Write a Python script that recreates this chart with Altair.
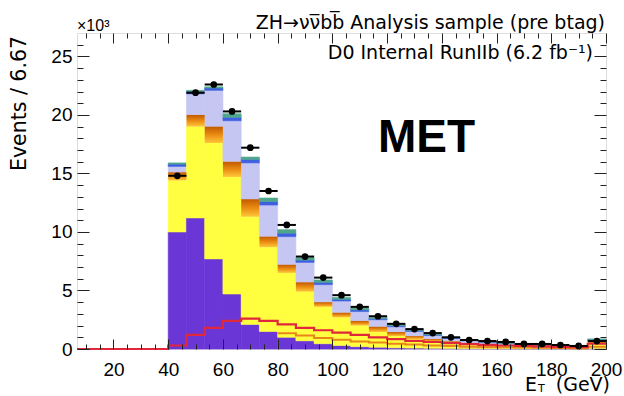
import altair as alt
import pandas as pd

FONT = "Liberation Sans"
FONT2 = "DejaVu Sans"

# bin edges (GeV), bin width 6.67 GeV
edges = [6.67, 13.33, 20.0, 26.67, 33.33, 40.0, 46.67, 53.33, 60.0, 66.67, 73.33,
         80.0, 86.67, 93.33, 100.0, 106.67, 113.33, 120.0, 126.67, 133.33, 140.0,
         146.67, 153.33, 160.0, 166.67, 173.33, 180.0, 186.67, 193.33, 200.0]

# stacked backgrounds (x10^3 events), bins from 40 GeV to 200 GeV
purple = [10.0, 11.2, 7.7, 4.7, 2.1, 1.5, 1.0, 0.7, 0.45, 0.3, 0.2, 0.15, 0.1, 0.08,
          0.06, 0.05, 0.04, 0.03, 0.03, 0.02, 0.02, 0.02, 0.01, 0.05]
yellow = [4.4, 7.8, 9.9, 10.0, 9.2, 7.2, 5.5, 4.2, 3.15, 2.4, 1.8, 1.3, 1.0, 0.77,
          0.59, 0.45, 0.36, 0.29, 0.23, 0.19, 0.15, 0.12, 0.11, 0.40]
orange = [0.7, 1.0, 1.4, 1.3, 1.5, 0.9, 0.7, 0.8, 0.4, 0.4, 0.4, 0.45, 0.35, 0.25,
          0.2, 0.16, 0.12, 0.10, 0.08, 0.07, 0.06, 0.05, 0.04, 0.15]
lavender = [0.5, 1.8, 3.1, 3.5, 3.1, 2.7, 2.4, 1.7, 1.5, 1.0, 0.8, 0.6, 0.45, 0.4,
            0.3, 0.24, 0.18, 0.14, 0.12, 0.10, 0.08, 0.07, 0.06, 0.18]
blue = [0.2, 0.2, 0.2, 0.3, 0.3, 0.3, 0.3, 0.2, 0.2, 0.15, 0.15, 0.1, 0.1, 0.08,
        0.07, 0.05, 0.04, 0.04, 0.03, 0.02, 0.02, 0.02, 0.01, 0.04]
green = [0.1, 0.1, 0.1, 0.3, 0.2, 0.3, 0.3, 0.2, 0.2, 0.15, 0.15, 0.1, 0.1, 0.07,
         0.06, 0.05, 0.04, 0.03, 0.03, 0.02, 0.02, 0.02, 0.02, 0.04]

# data points (x10^3 events)
data = [14.8, 21.9, 22.6, 20.3, 17.2, 13.5, 10.6, 7.9, 6.1, 4.6, 3.6, 2.8, 2.15,
        1.7, 1.36, 1.0, 0.77, 0.68, 0.6, 0.43, 0.43, 0.34, 0.26, 0.68]

# signal line (all bins from 6.67 GeV)
signal = [0, 0, 0, 0, 0, 0.3, 1.2, 1.8, 2.4, 2.6, 2.4, 2.1, 1.8, 1.6, 1.4, 1.2, 1.0,
          0.85, 0.7, 0.6, 0.5, 0.42, 0.35, 0.3, 0.26, 0.22, 0.19, 0.16, 0.45]

# lower orange outline inside the yellow (bins from 80 GeV)
low_line = [1.35, 1.15, 0.95, 0.8, 0.65, 0.55, 0.45, 0.38, 0.3, 0.25, 0.2, 0.17,
            0.14, 0.12, 0.1, 0.08, 0.07, 0.2]

x_major = [20, 40, 60, 80, 100, 120, 140, 160, 180, 200]
y_major = [0, 5, 10, 15, 20, 25]
x_minor = [v for v in range(10, 200, 5) if v % 20 != 0]
y_minor = [v for v in range(1, 27) if v % 5 != 0]

comp_names = ["purple", "yellow", "orange", "lavender", "blue", "green"]
comp_colors = ["#6a36d6", "#ffff40", "#e07f10", "#c6c6f3", "#3d5fe0", "#4fa68c"]
comps = [purple, yellow, orange, lavender, blue, green]

rows = []
for i in range(len(data)):
    cum = 0.0
    for name, arr in zip(comp_names, comps):
        rows.append({"lo": edges[5 + i], "hi": edges[6 + i], "comp": name,
                     "y0": cum, "y1": cum + arr[i]})
        cum += arr[i]
stack_df = pd.DataFrame(rows)
solid_df = stack_df[stack_df.comp != "orange"]
orange_df = stack_df[stack_df.comp == "orange"]

pts_df = pd.DataFrame({"lo": edges[5:-1], "hi": edges[6:],
                       "xc": [(a + b) / 2 for a, b in zip(edges[5:-1], edges[6:])],
                       "data": data})
sig_df = pd.DataFrame({"x": edges, "y": signal + [signal[-1]]})
low_df = pd.DataFrame({"x": edges[11:], "y": low_line + [low_line[-1]]})

xs = alt.Scale(domain=[6.67, 200], nice=False, zero=False)
ys = alt.Scale(domain=[0, 27], nice=False, zero=False)

ax_x = alt.Axis(orient="bottom", values=x_major, ticks=False, tickSize=0, domain=False,
                grid=False, title=None, labelFontSize=19, labelFont=FONT,
                labelColor="black", labelPadding=11, labelFlush=False, labelOverlap=False)
ax_y = alt.Axis(orient="left", values=y_major, ticks=False, tickSize=0, domain=False,
                grid=False, title=None, labelFontSize=19, labelFont=FONT,
                labelColor="black", labelPadding=5, labelOverlap=False)


def tick_axis(orient, offset, values, size):
    return alt.Axis(orient=orient, offset=offset, values=values, labels=False,
                    ticks=True, tickSize=size, tickColor="#222", tickWidth=1,
                    domain=False, grid=False, title=None, zindex=1)


bars = alt.Chart(solid_df).mark_bar(strokeWidth=0.6).encode(
    x=alt.X("lo:Q", scale=xs, axis=ax_x),
    x2="hi:Q",
    y=alt.Y("y0:Q", scale=ys, axis=ax_y),
    y2="y1:Q",
    color=alt.Color("comp:N", scale=alt.Scale(domain=comp_names, range=comp_colors),
                    legend=None),
    stroke=alt.Stroke("comp:N", scale=alt.Scale(domain=comp_names, range=comp_colors),
                      legend=None),
)

orange_grad = alt.LinearGradient(
    gradient="linear", x1=0, x2=0, y1=0, y2=1,
    stops=[alt.GradientStop(color="#c25a00", offset=0),
           alt.GradientStop(color="#ea8c12", offset=0.5),
           alt.GradientStop(color="#ffc63a", offset=1)])
orange_bars = alt.Chart(orange_df).mark_bar(color=orange_grad).encode(
    x=alt.X("lo:Q", scale=xs, axis=None), x2="hi:Q",
    y=alt.Y("y0:Q", scale=ys, axis=None), y2="y1:Q")

low = alt.Chart(low_df).mark_line(interpolate="step-after", color="#e8861a",
                                  strokeWidth=2).encode(
    x=alt.X("x:Q", scale=xs, axis=None), y=alt.Y("y:Q", scale=ys, axis=None))
sig = alt.Chart(sig_df).mark_line(interpolate="step-after", color="#e0283a",
                                  strokeWidth=2.2).encode(
    x=alt.X("x:Q", scale=xs, axis=None), y=alt.Y("y:Q", scale=ys, axis=None))

err = alt.Chart(pts_df).mark_rule(color="black", strokeWidth=2).encode(
    x=alt.X("lo:Q", scale=xs, axis=None), x2="hi:Q",
    y=alt.Y("data:Q", scale=ys, axis=None))
pts = alt.Chart(pts_df).mark_circle(color="black", size=45, opacity=1).encode(
    x=alt.X("xc:Q", scale=xs, axis=None), y=alt.Y("data:Q", scale=ys, axis=None))

W, H = 529, 316


def tick_layer(xax, yax):
    return alt.Chart(pts_df).mark_point(opacity=0).encode(
        x=alt.X("xc:Q", scale=xs, axis=xax), y=alt.Y("data:Q", scale=ys, axis=yax))


t1 = tick_layer(tick_axis("top", -H, x_major, 10), tick_axis("right", -W, y_major, 12))
t2 = tick_layer(tick_axis("bottom", -H, x_major, 10), tick_axis("left", -W, y_major, 12))
t3 = tick_layer(tick_axis("top", -H, x_minor, 5), tick_axis("right", -W, y_minor, 6))
t4 = tick_layer(tick_axis("bottom", -H, x_minor, 5), tick_axis("left", -W, y_minor, 6))


def label(text, x, y, size, align="left", weight="normal", angle=0,
          baseline="alphabetic", font=FONT2):
    return alt.Chart(pd.DataFrame({"t": [text]})).mark_text(
        font=font, fontSize=size, align=align, fontWeight=weight, angle=angle,
        baseline=baseline, color="black").encode(
        x=alt.value(x), y=alt.value(y), text="t:N")


texts = [
    label("ZH\u2192\u03bd\u03bd\u0305bb\u0305 Analysis sample (pre btag)", W - 1, -4, 19,
          align="right"),
    label("D0 Internal RunIIb (6.2 fb\u207b\u00b9)", 516, 26, 19, align="right"),
    label("MET", 301, 119, 46, weight="bold", font=FONT),
    label("\u00d710\u00b3", 0, -2, 16, font=FONT),
    label("Events / 6.67", -57, 3, 20.5, align="right", angle=270, baseline="middle"),
    label("E", 448, 358, 19),
    label("T", 461, 359, 11),
    label("(GeV)", 533, 358, 19, align="right"),
]

chart = alt.layer(bars, orange_bars, low, sig, err, pts, t1, t2, t3, t4, *texts).resolve_axis(
    x="independent", y="independent"
).properties(
    width=W, height=H,
    padding={"left": 77, "top": 33, "right": 18, "bottom": 47},
    autosize=alt.AutoSizeParams(type="none"),
).configure_view(stroke="#222", strokeWidth=1).configure(background="white")

chart.save("out.html", embed_options={"renderer": "svg", "actions": False})
